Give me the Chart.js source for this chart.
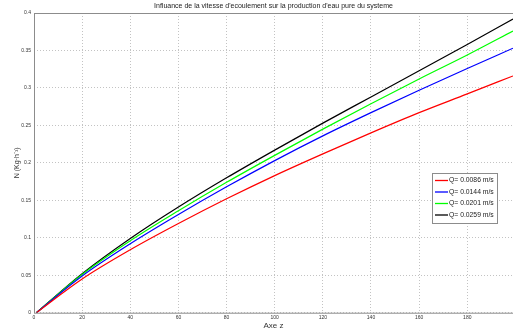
<!DOCTYPE html>
<html>
<head>
<meta charset="utf-8">
<script src="https://cdn.jsdelivr.net/npm/chart.js@4.4.1/dist/chart.umd.min.js"></script>
<style>
  html, body { margin: 0; padding: 0; background: #fff; }
  #wrap { width: 513px; height: 331px; }
</style>
</head>
<body>
<div id="wrap"><canvas id="chart" width="513" height="331"></canvas></div>
<script>
// valeurs
const zValues = [1, 20, 40, 60, 80, 100, 120, 140, 160, 180, 199];
const q0086 = [0, 0.045, 0.084, 0.119, 0.152, 0.183, 0.212, 0.240, 0.267, 0.292, 0.316];
const q0144 = [0, 0.049, 0.092, 0.131, 0.168, 0.203, 0.236, 0.267, 0.297, 0.326, 0.353];
const q0201 = [0, 0.051, 0.096, 0.136, 0.174, 0.210, 0.245, 0.279, 0.312, 0.344, 0.376];
const q0259 = [0, 0.052, 0.099, 0.141, 0.180, 0.217, 0.253, 0.288, 0.323, 0.358, 0.392];
const seriesLabels = ["Q= 0.0086 m/s", "Q= 0.0144 m/s", "Q= 0.0201 m/s", "Q= 0.0259 m/s"];
const seriesColors = ["#ff0000", "#0000ff", "#00ff00", "#000000"];
const xTicks = [0, 20, 40, 60, 80, 100, 120, 140, 160, 180];
const yTicks = [0, 0.05, 0.1, 0.15, 0.2, 0.25, 0.3, 0.35, 0.4];

const titleText = "Influance de la vitesse d'ecoulement sur la production d'eau pure du systeme";
const FONT = "'Liberation Sans', Arial, sans-serif";

const toPoints = arr => arr.map((v, i) => ({ x: zValues[i], y: v }));

// cadre + titre + légende dessinés par dessus
const matlabBox = {
  id: "matlabBox",
  afterDraw(chart) {
    const { ctx, chartArea: a } = chart;
    ctx.save();
    ctx.strokeStyle = "#8c8c8c";
    ctx.lineWidth = 1;
    ctx.strokeRect(a.left + 0.5, a.top + 0.5, a.right - a.left, a.bottom - a.top);

    ctx.fillStyle = "#222";
    ctx.font = "7px " + FONT;
    ctx.textAlign = "center";
    ctx.textBaseline = "middle";
    ctx.fillText(titleText, (a.left + a.right) / 2, 6);

    // légende
    const lx = 432, ly = 173, lw = 65, lh = 50;
    ctx.fillStyle = "#fff";
    ctx.fillRect(lx, ly, lw, lh);
    ctx.strokeStyle = "#8c8c8c";
    ctx.strokeRect(lx + 0.5, ly + 0.5, lw, lh);
    ctx.font = "6.8px " + FONT;
    ctx.textAlign = "left";
    seriesLabels.forEach((lab, i) => {
      const yy = ly + 7.5 + i * 11.5;
      ctx.strokeStyle = seriesColors[i];
      ctx.lineWidth = 1.3;
      ctx.beginPath();
      ctx.moveTo(lx + 3, yy);
      ctx.lineTo(lx + 16, yy);
      ctx.stroke();
      ctx.fillStyle = "#222";
      ctx.fillText(lab, lx + 17, yy);
    });
    ctx.restore();
  }
};

new Chart(document.getElementById("chart"), {
  type: "line",
  data: {
    datasets: [q0086, q0144, q0201, q0259].map((arr, i) => ({
      label: seriesLabels[i],
      data: toPoints(arr),
      borderColor: seriesColors[i],
      borderWidth: 1.2,
      pointRadius: 0,
      cubicInterpolationMode: "monotone",
      fill: false
    }))
  },
  options: {
    responsive: false,
    animation: false,
    layout: { padding: { top: 13, right: 0, left: 0, bottom: 0 } },
    plugins: {
      legend: { display: false },
      tooltip: { enabled: false }
    },
    scales: {
      x: {
        type: "linear",
        min: 0,
        max: 199,
        afterBuildTicks: s => { s.ticks = xTicks.map(v => ({ value: v })); },
        afterFit: s => { s.height = 18.3; },
        grid: {
          color: "#b4b4b4",
          lineWidth: 0.8,
          drawTicks: false
        },
        border: { display: false, dash: [1, 2] },
        ticks: {
          padding: 2,
          color: "#333",
          font: { size: 5, family: FONT },
          maxRotation: 0
        },
        title: {
          display: true,
          text: "Axe z",
          color: "#333",
          font: { size: 8, family: FONT },
          padding: { top: 0, bottom: 0 }
        }
      },
      y: {
        min: 0,
        max: 0.4,
        afterBuildTicks: s => { s.ticks = yTicks.map(v => ({ value: v })); },
        afterFit: s => { s.width = 34; },
        grid: {
          color: "#b4b4b4",
          lineWidth: 0.8,
          drawTicks: false
        },
        border: { display: false, dash: [1, 2] },
        ticks: {
          padding: 3,
          color: "#333",
          font: { size: 5, family: FONT },
          callback: v => String(Math.round(v * 100) / 100)
        },
        title: {
          display: true,
          text: "N (Kg·h⁻¹)",
          color: "#333",
          font: { size: 7, family: FONT },
          padding: { top: 13, bottom: 0 }
        }
      }
    }
  },
  plugins: [matlabBox]
});
</script>
</body>
</html>
